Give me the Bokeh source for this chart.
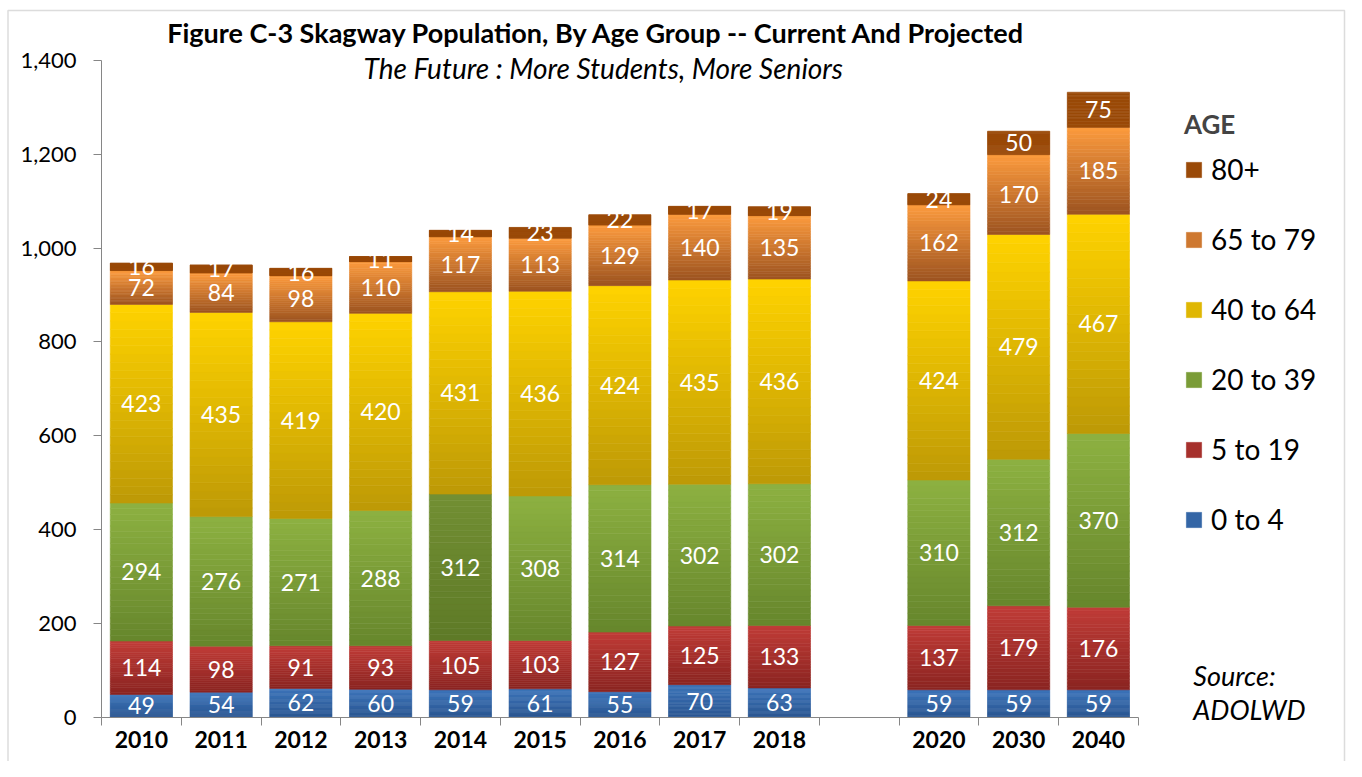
import numpy as np
from bokeh.plotting import figure
from bokeh.models import (ColumnDataSource, Range1d, FixedTicker, BoxAnnotation,
                          NumeralTickFormatter, Legend, LegendItem)
from bokeh.core.properties import value
from bokeh.embed import file_html
from bokeh.resources import INLINE

# ---------------- data ----------------
years = ["2010", "2011", "2012", "2013", "2014", "2015", "2016", "2017", "2018",
         "2020", "2030", "2040"]
gap_before = "2020"          # an empty slot separates actuals from projections

series = ["0 to 4", "5 to 19", "20 to 39", "40 to 64", "65 to 79", "80+"]
age_0_4   = [49, 54, 62, 60, 59, 61, 55, 70, 63, 59, 59, 59]
age_5_19  = [114, 98, 91, 93, 105, 103, 127, 125, 133, 137, 179, 176]
age_20_39 = [294, 276, 271, 288, 312, 308, 314, 302, 302, 310, 312, 370]
age_40_64 = [423, 435, 419, 420, 431, 436, 424, 435, 436, 424, 479, 467]
age_65_79 = [72, 84, 98, 110, 117, 113, 129, 140, 135, 162, 170, 185]
age_80p   = [16, 17, 16, 11, 14, 23, 22, 17, 19, 24, 50, 75]
values = [age_0_4, age_5_19, age_20_39, age_40_64, age_65_79, age_80p]

y_ticks = [0, 200, 400, 600, 800, 1000, 1200, 1400]

title_text = "Figure C-3  Skagway Population, By Age Group  -- Current And Projected"
subtitle_text = "The Future : More Students, More Seniors"
legend_title = "AGE"
source_lines = ["Source:", "ADOLWD"]

# ---------------- style ----------------
FONT = "Lato"
AXIS_COLOR = "#868686"
# (top colour, bottom colour) of each series' vertical gradient
grad = {
    "0 to 4":   ("#3C74BA", "#2B5690"),
    "5 to 19":  ("#C03C37", "#8A2421"),
    "20 to 39": ("#8DB141", "#66862C"),
    "40 to 64": ("#FFD300", "#BD9906"),
    "65 to 79": ("#FC9B3E", "#9C5320"),
    "80+":      ("#9A4A08", "#9A4A08"),
}
special = {("20 to 39", "2014"): ("#728F33", "#5E7A27")}
N_STRIPS = 24
BAR_W = 0.78


def hex2rgb(h):
    h = h.lstrip("#")
    return np.array([int(h[i:i + 2], 16) for i in (0, 2, 4)], dtype=float)


def rgb2hex(c):
    c = np.clip(np.round(c), 0, 255).astype(int)
    return "#%02x%02x%02x" % tuple(c)


gap_idx = years.index(gap_before)
pos = [i + (1 if i >= gap_idx else 0) for i in range(len(years))]
n_slots = len(years) + 1
boundaries = [b - 0.5 for b in range(n_slots + 1)]

# ---------------- figure ----------------
# the frame spans the whole canvas; the axes are pinned at fixed locations
p = figure(frame_width=1346, frame_height=761,
           x_range=Range1d(-1.7665, 15.111), y_range=Range1d(-93.73, 1527.4),
           output_backend="svg", toolbar_location=None,
           min_border_left=0, min_border_right=0, min_border_top=0,
           min_border_bottom=0, outline_line_color=None,
           background_fill_color="white", border_fill_color="white")
p.xgrid.visible = False
p.ygrid.visible = False

# outer chart border (bottom edge lies below the visible area)
p.add_layout(BoxAnnotation(left=7.5, right=1344, top=10, bottom=900,
                           left_units="canvas", right_units="canvas",
                           top_units="canvas", bottom_units="canvas",
                           fill_alpha=0, line_color="#8a8a8a", line_width=1.5,
                           level="underlay"))

# x axis: labels at slot centres, tick marks at slot boundaries
xa = p.xaxis[0]
xa.fixed_location = 0
xa.ticker = FixedTicker(ticks=pos, minor_ticks=boundaries)
xa.major_label_overrides = {pp: y for pp, y in zip(pos, years)}
xa.bounds = (-0.5, n_slots - 0.5)
xa.major_tick_out = 0
xa.major_tick_in = 0
xa.minor_tick_out = 8
xa.minor_tick_in = 0
xa.axis_line_color = AXIS_COLOR
xa.minor_tick_line_color = AXIS_COLOR
xa.major_tick_line_color = None
xa.major_label_text_font = FONT
xa.major_label_text_font_style = "bold"
xa.major_label_text_font_size = "23px"
xa.major_label_text_color = "black"
xa.major_label_standoff = 5

ya = p.yaxis[0]
ya.fixed_location = -0.5
ya.ticker = FixedTicker(ticks=y_ticks)
ya.formatter = NumeralTickFormatter(format="0,0")
ya.bounds = (0, 1400)
ya.major_tick_out = 8
ya.major_tick_in = 0
ya.minor_tick_line_color = None
ya.axis_line_color = AXIS_COLOR
ya.major_tick_line_color = AXIS_COLOR
ya.major_label_text_font = FONT
ya.major_label_text_font_size = "22px"
ya.major_label_text_color = "black"
ya.major_label_standoff = 17

# ---------------- stacked bars with gradient strips ----------------
cum = np.zeros(len(years))
renderers = {}
lab_x, lab_y, lab_t = [], [], []
for name, vals in zip(series, values):
    vals = np.array(vals, dtype=float)
    bottoms = cum.copy()
    tops = cum + vals
    xs, bs, ts, cs = [], [], [], []
    for i, yr in enumerate(years):
        top_c, bot_c = special.get((name, yr), grad[name])
        ct, cb = hex2rgb(top_c), hex2rgb(bot_c)
        for k in range(N_STRIPS):
            f0 = k / N_STRIPS
            f1 = (k + 1) / N_STRIPS
            xs.append(pos[i])
            bs.append(bottoms[i] + vals[i] * f0)
            ts.append(bottoms[i] + vals[i] * f1)
            cs.append(rgb2hex(cb + (ct - cb) * (f0 + f1) / 2))
        lab_x.append(pos[i])
        lab_y.append(bottoms[i] + vals[i] / 2)
        lab_t.append(str(int(vals[i])))
    src = ColumnDataSource(dict(x=xs, bottom=bs, top=ts, color=cs))
    r = p.vbar(x="x", bottom="bottom", top="top", width=BAR_W, source=src,
               fill_color="color", line_color="color", line_width=0.6)
    renderers[name] = r
    cum = tops

labels_src = ColumnDataSource(dict(x=lab_x, y=lab_y, text=lab_t))
p.text(x="x", y="y", text="text", source=labels_src,
       text_font=value(FONT), text_font_size="23px", text_color="white",
       text_align="center", text_baseline="middle")

# ---------------- titles and source ----------------
p.text(x=[5.792], y=[1458.6], text=[title_text], text_font=value(FONT),
       text_font_style="bold", text_font_size="27px", text_color="black",
       text_align="center", text_baseline="middle")
p.text(x=[5.792], y=[1383.4], text=[subtitle_text], text_font=value(FONT),
       text_font_style="italic", text_font_size="28px", text_color="black",
       text_align="center", text_baseline="middle")
p.text(x=[13.19, 13.19], y=[89.9, 16.8], text=source_lines,
       text_font=value(FONT), text_font_style="italic", text_font_size="27px",
       text_color="black", text_align="left", text_baseline="middle")

# ---------------- legend ----------------
items = [LegendItem(label=name, renderers=[renderers[name]], index=N_STRIPS // 2)
         for name in reversed(series)]
legend = Legend(items=items, location=(1184, 225), orientation="vertical",
                title=legend_title, title_text_font=FONT,
                title_text_font_style="bold", title_text_font_size="26px",
                title_standoff=12,
                label_text_font=FONT, label_text_font_size="28px",
                label_text_color="black", label_standoff=8,
                glyph_width=19, glyph_height=19, label_height=19,
                spacing=36, padding=0, margin=0,
                border_line_color=None, background_fill_alpha=0)
p.add_layout(legend)

open("out.html", "w").write(file_html(p, INLINE))
